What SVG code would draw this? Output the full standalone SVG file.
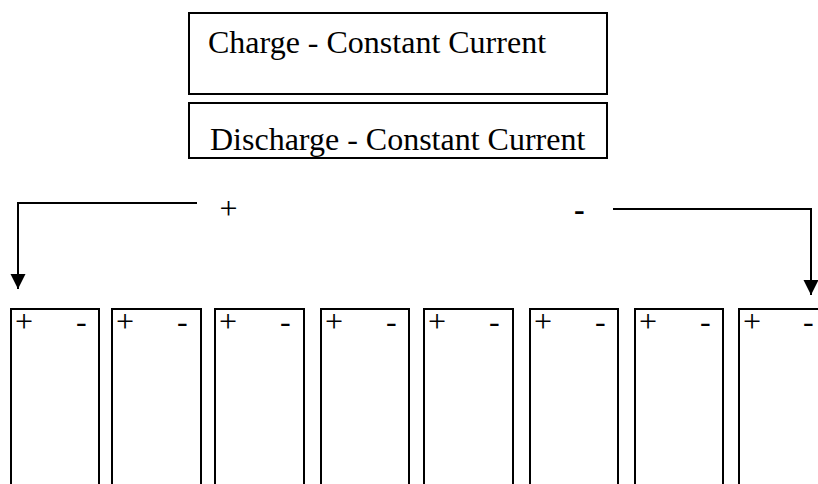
<svg xmlns="http://www.w3.org/2000/svg" width="818" height="484" viewBox="0 0 818 484">
<defs>
<style>
.box{fill:#fff;stroke:#000;stroke-width:2}
.cell{fill:none;stroke:#000;stroke-width:2}
.t{font-family:"Liberation Serif","Times New Roman",serif;font-size:32px;fill:#000}
.b{font-weight:bold}
.wire{fill:none;stroke:#000;stroke-width:2}
</style>
<marker id="ah" markerWidth="16" markerHeight="16" refX="15" refY="7.5" orient="auto" markerUnits="userSpaceOnUse" viewBox="0 0 16 16">
<path d="M0,0 L15,7.5 L0,15 Z" fill="#000"/>
</marker>
</defs>
<rect width="818" height="484" fill="#fff"/>
<g id="charge">
<rect class="box" x="189" y="13" width="418" height="81"/>
<text class="t" x="208" y="53">Charge - Constant Current</text>
</g>
<g id="discharge">
<rect class="box" x="189" y="103" width="418" height="55"/>
<text class="t" x="210" y="150">Discharge - Constant Current</text>
</g>
<g id="labels">
<text class="t" x="219.5" y="218.5">+</text>
<text class="t b" x="574" y="219.5">-</text>
</g>
<g id="connectors">
<polyline class="wire" points="197,203 18,203 18,289" marker-end="url(#ah)"/>
<polyline class="wire" points="613,209 811,209 811,295" marker-end="url(#ah)"/>
</g>
<g id="cell1"><path class="cell" d="M11,490 V309 H99 V490"/><text class="t" x="15" y="332">+</text><text class="t" x="76" y="332">-</text></g>
<g id="cell2"><path class="cell" d="M112,490 V309 H201 V490"/><text class="t" x="116" y="332">+</text><text class="t" x="177" y="332">-</text></g>
<g id="cell3"><path class="cell" d="M215,490 V309 H304 V490"/><text class="t" x="219" y="332">+</text><text class="t" x="280" y="332">-</text></g>
<g id="cell4"><path class="cell" d="M321,490 V309 H409 V490"/><text class="t" x="325" y="332">+</text><text class="t" x="386" y="332">-</text></g>
<g id="cell5"><path class="cell" d="M424,490 V309 H513 V490"/><text class="t" x="428" y="332">+</text><text class="t" x="489" y="332">-</text></g>
<g id="cell6"><path class="cell" d="M530,490 V309 H618 V490"/><text class="t" x="534" y="332">+</text><text class="t" x="595" y="332">-</text></g>
<g id="cell7"><path class="cell" d="M635,490 V309 H723 V490"/><text class="t" x="639" y="332">+</text><text class="t" x="700" y="332">-</text></g>
<g id="cell8"><path class="cell" d="M739,490 V309 H830"/><text class="t" x="743" y="332">+</text><text class="t" x="803" y="332">-</text></g>
</svg>
